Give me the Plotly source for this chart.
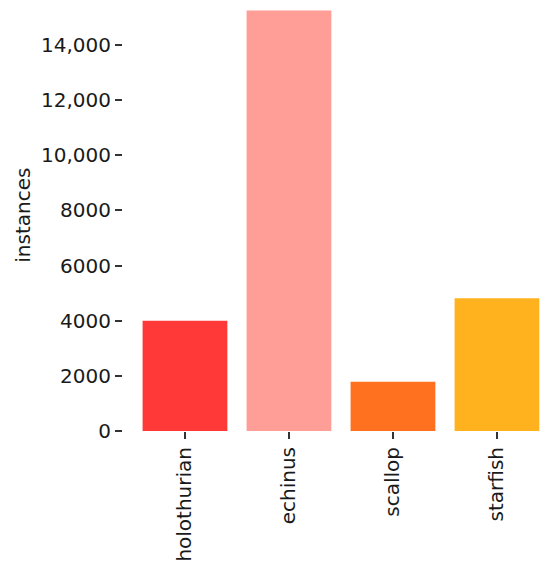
import plotly.graph_objects as go

categories = ["holothurian", "echinus", "scallop", "starfish"]
instances = [4000, 15250, 1790, 4810]
colors = ["#FF3838", "#FF9D97", "#FF701F", "#FFB21D"]
y_tick_values = [0, 2000, 4000, 6000, 8000, 10000, 12000, 14000]
y_tick_labels = ["0", "2000", "4000", "6000", "8000", "10,000", "12,000", "14,000"]
y_title = "instances"

font_family = "DejaVu Sans"
text_color = "#1a1a1a"
fs = 20

fig = go.Figure(
    go.Bar(
        x=list(range(len(categories))),
        y=instances,
        marker=dict(color=colors, line=dict(width=0)),
        width=0.815,
        hoverinfo="skip",
    )
)

fig.update_layout(
    template="none",
    width=550,
    height=577,
    margin=dict(l=123, r=0, t=0, b=146, autoexpand=False),
    paper_bgcolor="white",
    plot_bgcolor="white",
    showlegend=False,
    font=dict(family=font_family, size=fs, color=text_color),
    xaxis=dict(
        automargin=False,
        range=[-0.596, 3.51],
        tickvals=list(range(len(categories))),
        ticktext=categories,
        tickangle=-90,
        ticks="outside",
        ticklen=7,
        tickwidth=1.5,
        tickcolor="#333333",
        showline=False,
        showgrid=False,
        zeroline=False,
        tickfont=dict(family=font_family, size=fs, color=text_color),
    ),
    yaxis=dict(
        automargin=False,
        range=[0, 15630],
        tickvals=y_tick_values,
        ticktext=y_tick_labels,
        ticks="outside",
        ticklen=7,
        tickwidth=1.5,
        tickcolor="#333333",
        showline=False,
        showgrid=False,
        zeroline=False,
        tickfont=dict(family=font_family, size=fs, color=text_color),
    ),
    annotations=[
        dict(
            text=y_title,
            textangle=-90,
            xref="paper",
            yref="paper",
            x=-0.236,
            y=0.5,
            xanchor="center",
            yanchor="middle",
            showarrow=False,
            font=dict(family=font_family, size=fs, color=text_color),
        )
    ],
)

fig.write_html(
    "out.html",
    config={"displayModeBar": False},
    post_script="document.body.style.margin='0';document.body.style.overflow='hidden';",
)
